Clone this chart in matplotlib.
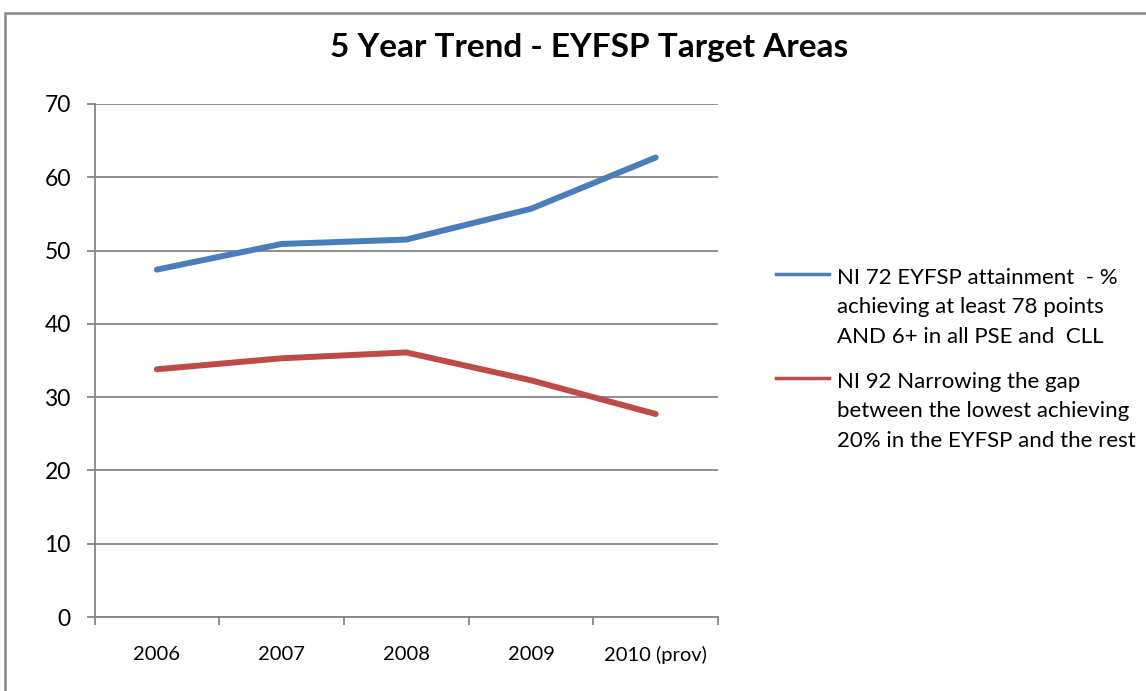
import matplotlib.pyplot as plt
from matplotlib.lines import Line2D
from matplotlib.patches import Rectangle

years = ["2006", "2007", "2008", "2009", "2010 (prov)"]
ni72 = [47.4, 50.9, 51.5, 55.7, 62.7]
ni92 = [33.8, 35.3, 36.1, 32.3, 27.7]
labels = [
    "NI 72 EYFSP attainment  - %\nachieving at least 78 points\nAND 6+ in all PSE and  CLL",
    "NI 92 Narrowing the gap\nbetween the lowest achieving\n20% in the EYFSP and the rest",
]
colors = ["#4A7EBB", "#BE4B48"]
grid_c = "#868686"

plt.rcParams["font.family"] = ["Lato", "DejaVu Sans"]

W, H = 1146, 691
fig = plt.figure(figsize=(W / 100, H / 100), dpi=100)
ax = fig.add_axes([94.5 / W, 1 - 617 / H, (718 - 94.5) / W, (617 - 104) / H])

x = list(range(len(years)))
for vals, c in zip([ni72, ni92], colors):
    ax.plot(x, vals, color=c, lw=4.3, solid_capstyle="round", solid_joinstyle="round", zorder=3)

ax.set_xlim(-0.5, len(years) - 0.5)
ax.set_ylim(0, 70)
ax.set_yticks(range(0, 71, 10))
ax.yaxis.grid(True, color=grid_c, lw=1.3)
ax.set_axisbelow(True)

# category axis: tick marks between categories, labels centred on them
ax.set_xticks([i - 0.5 for i in range(len(years) + 1)])
ax.set_xticklabels([])
ax.set_xticks(x, minor=True)
ax.set_xticklabels(years, minor=True)
ax.tick_params(axis="x", which="major", length=6, width=1.3, color=grid_c)
ax.tick_params(axis="x", which="minor", length=0, pad=21, labelsize=14.5)
ax.tick_params(axis="y", length=6, width=1.3, color=grid_c, pad=11, labelsize=16.5)

for s in ["top", "right"]:
    ax.spines[s].set_visible(False)
for s in ["left", "bottom"]:
    ax.spines[s].set_color(grid_c)
    ax.spines[s].set_linewidth(1.3)

fig.text(589 / W, 1 - 48 / H, "5 Year Trend - EYFSP Target Areas", ha="center", va="center",
         fontsize=24, fontweight="bold")

# legend drawn beside the plot, handle level with first text line
for lab, c, y0 in zip(labels, colors, [274, 378]):
    fig.add_artist(Line2D([776 / W, 829 / W], [1 - y0 / H, 1 - y0 / H], color=c, lw=2.5,
                          transform=fig.transFigure))
    fig.text(837 / W, 1 - (y0 - 6) / H, lab, ha="left", va="top", fontsize=16, linespacing=1.58)

# chart frame
fig.add_artist(Rectangle((5 / W, -0.1), 2, 1 - 13 / H + 0.1, transform=fig.transFigure,
                         fill=False, edgecolor=grid_c, lw=1.8))

fig.savefig("out.png", dpi=100)
